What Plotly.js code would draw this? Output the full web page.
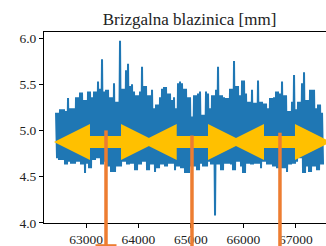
<!DOCTYPE html>
<html><head><meta charset="utf-8">
<script src="https://cdn.plot.ly/plotly-3.0.1.min.js"></script>
<style>html,body{margin:0;padding:0;background:#fff;overflow:hidden}#chart{width:326px;height:246px}</style>
</head><body><div id="chart"></div>
<script>
// upper envelope of the signal (read every ~2 px from left to right)
const upper = [
5.19,5.19,5.23,5.23,5.23,5.21,5.35,5.24,5.24,5.24,
5.36,5.36,5.41,5.41,5.33,5.33,5.42,5.42,5.36,5.42,
5.42,5.53,5.45,5.77,5.42,5.44,5.44,5.36,5.36,5.51,
5.31,5.31,5.97,5.45,5.45,5.65,5.72,5.48,5.50,5.42,
5.38,5.38,5.42,5.69,5.48,5.48,5.38,5.38,5.44,5.24,
5.28,5.28,5.36,5.45,5.47,5.47,5.40,5.40,5.33,5.36,
5.24,5.51,5.53,5.51,5.45,5.45,5.36,5.36,5.15,5.38,
5.38,5.40,5.42,5.17,5.17,5.42,5.40,5.24,5.38,5.38,
5.44,5.69,5.38,5.38,5.36,5.35,5.35,5.45,5.45,5.75,
5.48,5.48,5.38,5.54,5.54,5.40,5.31,5.31,5.44,5.30,
5.30,5.54,5.31,5.31,5.29,5.29,5.24,5.35,5.35,5.36,
5.42,5.42,5.40,5.53,5.38,5.38,5.21,5.21,5.31,5.60,
5.23,5.31,5.31,5.51,5.63,5.33,5.33,5.44,5.44,5.44,
5.24,5.28,5.28,5.19];
// lower envelope of the signal
const lower = [
4.70,4.68,4.68,4.68,4.63,4.63,4.66,4.64,4.64,4.64,
4.66,4.66,4.63,4.63,4.54,4.64,4.59,4.59,4.68,4.68,
4.70,4.70,4.63,4.63,4.66,4.61,4.61,4.55,4.55,4.55,
4.61,4.61,4.61,4.66,4.66,4.63,4.63,4.64,4.64,4.57,
4.57,4.63,4.63,4.66,4.66,4.57,4.57,4.63,4.63,4.55,
4.59,4.59,4.63,4.63,4.61,4.61,4.64,4.64,4.64,4.57,
4.61,4.61,4.59,4.59,4.54,4.54,4.54,4.61,4.61,4.61,
4.57,4.57,4.64,4.61,4.61,4.61,4.66,4.63,4.63,4.08,
4.63,4.63,4.57,4.57,4.64,4.64,4.64,4.63,4.57,4.57,
4.66,4.66,4.61,4.54,4.54,4.64,4.64,4.63,4.63,4.64,
4.64,4.64,4.59,4.66,4.66,4.63,4.63,4.63,4.61,4.61,
4.59,4.59,4.59,4.59,4.59,4.55,4.63,4.63,4.64,4.64,
4.66,4.70,4.70,4.54,4.54,4.61,4.55,4.55,4.61,4.61,
4.57,4.57,4.63,4.63];
const sampleStart = 62429;
const sampleStep = 19.05;

const eventX = [63381, 65019, 66695];
const eventTop = [5.0, 4.945, 4.975];
const eventBottom = [3.755, 3.6, 3.6];

const spanStart = [62390, 64042, 65705];
const spanEnd = [64353, 66010, 67667];
const arrowLevel = 4.875;

const xTicks = [63000, 64000, 65000, 66000, 67000];
const yTicks = [4.0, 4.5, 5.0, 5.5, 6.0];
const yTickText = ['4.0', '4.5', '5.0', '5.5', '6.0'];
const chartTitle = 'Brizgalna blazinica [mm]';

// build signal series from the read envelopes
const sigY = [];
for (let i = 0; i < upper.length; i++) { sigY.push(upper[i], lower[i]); }
const sigX = sigY.map((_, k) => sampleStart + k * sampleStep);

const FONT = 'Liberation Serif, DejaVu Serif, serif';
const ORANGE = '#ed7d31';
const headLen = 686, headHalf = 0.195, shaftHalf = 0.065;

const traces = [{
  x: sigX, y: sigY, type: 'scatter', mode: 'lines',
  line: {color: '#1f77b4', width: 2}, hoverinfo: 'skip'
}];

for (let i = 0; i < spanStart.length; i++) {
  const L = spanStart[i], R = spanEnd[i], Y = arrowLevel;
  traces.push({
    type: 'scatter', mode: 'lines', fill: 'toself', fillcolor: '#ffc000',
    line: {width: 0, color: '#ffc000'}, hoverinfo: 'skip',
    x: [L, L + headLen, L + headLen, R - headLen, R - headLen, R, R - headLen, R - headLen, L + headLen, L + headLen, L],
    y: [Y, Y + headHalf, Y + shaftHalf, Y + shaftHalf, Y + headHalf, Y, Y - headHalf, Y - shaftHalf, Y - shaftHalf, Y - headHalf, Y]
  });
}

// orange event lines on a taller, invisible y axis with the same scale, so they reach below the x axis
for (let i = 0; i < eventX.length; i++) {
  traces.push({
    type: 'scatter', mode: 'lines', xaxis: 'x', yaxis: 'y2', hoverinfo: 'skip',
    x: [eventX[i], eventX[i]], y: [eventTop[i], eventBottom[i]],
    line: {color: ORANGE, width: 3.5}
  });
}
traces.push({
  type: 'scatter', mode: 'markers', xaxis: 'x', yaxis: 'y2', x: eventX, y: eventBottom,
  marker: {symbol: 'line-ew', size: 15, line: {width: 2.5, color: ORANGE}, color: ORANGE},
  hoverinfo: 'skip'
});

const axisCommon = {
  showgrid: false, zeroline: false, showline: true, linecolor: '#000', linewidth: 1,
  ticks: 'outside', ticklen: 4, tickwidth: 1, tickcolor: '#000',
  tickfont: {family: FONT, size: 13.5, color: '#222'}
};

const layout = {
  width: 326, height: 246,
  margin: {l: 44, r: 0, t: 32, b: 0, pad: 0},
  paper_bgcolor: '#fff', plot_bgcolor: 'rgba(0,0,0,0)', showlegend: false,
  title: {text: chartTitle, font: {family: FONT, size: 17, color: '#222'},
          x: 0.516, xref: 'paper', xanchor: 'center', y: 0.922, yref: 'container', yanchor: 'middle'},
  xaxis: Object.assign({}, axisCommon, {
    range: [62200, 67572], tickvals: xTicks, ticktext: xTicks.map(String), mirror: true, anchor: 'y'
  }),
  yaxis: Object.assign({}, axisCommon, {
    domain: [23 / 214, 1],
    range: [3.998, 6.065], tickvals: yTicks, ticktext: yTickText, mirror: false
  }),
  yaxis2: {
    domain: [0, 1], anchor: 'x',
    range: [6.065 - 214 / 92.4, 6.065],
    visible: false, showgrid: false, zeroline: false, showline: false, showticklabels: false, ticks: ''
  }
};

Plotly.newPlot('chart', traces, layout, {staticPlot: true, displayModeBar: false});
</script>
</body></html>
